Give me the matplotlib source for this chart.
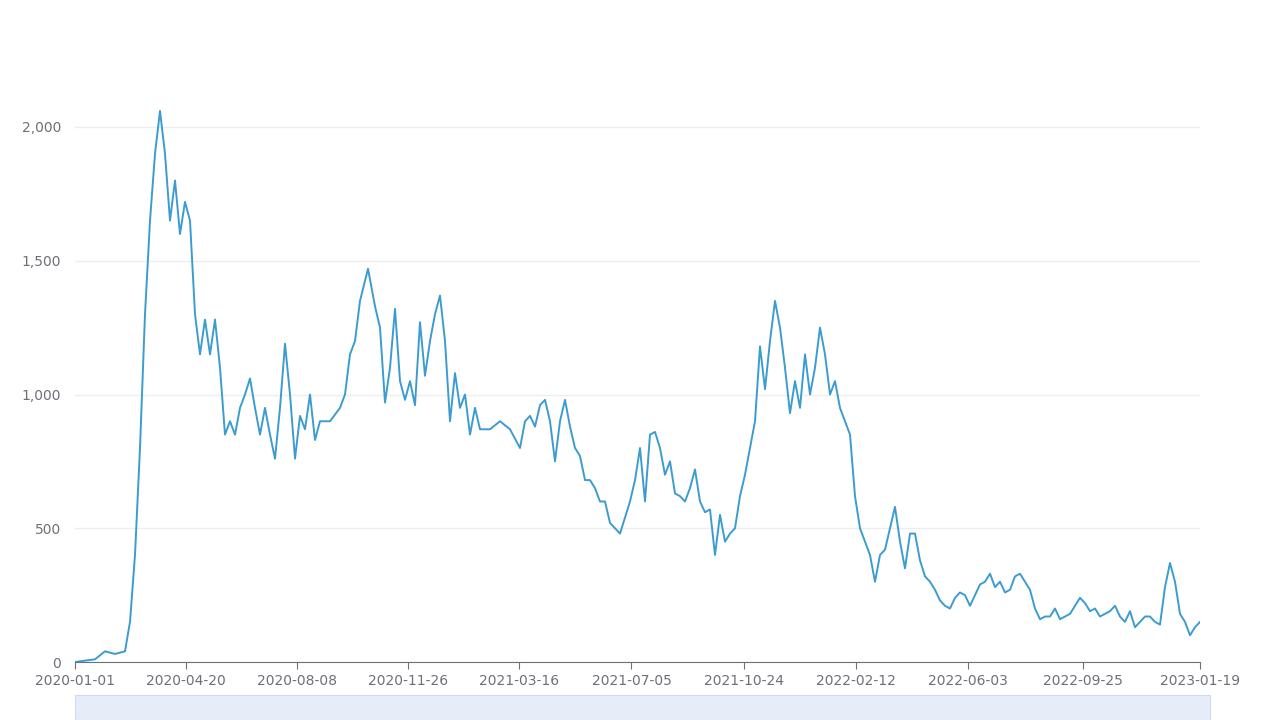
import matplotlib
matplotlib.use("Agg")
import matplotlib.pyplot as plt
import matplotlib.ticker as mt
import pandas as pd
import numpy as np

start = "2020-01-01"
# day offsets from start and values
day_px = [0,10,20,30,40,50,55,60,65,70,75,80,85,90,95,100,105,110,115,120,125,130,135,140,145,150,155,160,165,170,175,180,185,190,195,200,205,210,215,220,225,230,235,240,245,255,265,270,275,280,285,293,300,305,310,315,320,325,330,335,340,345,350,355,360,365,370,375,380,385,390,395,400,405,415,425,435,445,450,455,460,465,470,475,480,485,490,495,500,505,510,515,520,525,530,535,545,555,560,565,570,575,580,585,590,595,600,605,610,615,620,625,630,635,640,645,650,655,660,665,670,675,680,685,690,695,700,705,710,715,720,725,730,735,740,745,750,755,760,765,770,775,780,785,790,795,800,805,810,815,820,825,830,835,840,845,850,855,860,865,870,875,880,885,890,895,900,905,910,915,920,925,930,935,940,945,955,960,965,970,975,980,985,990,995,1000,1005,1010,1015,1020,1025,1030,1035,1040,1045,1050,1055,1060,1065,1070,1075,1080,1085,1090,1095,1100,1105,1110,1115,1120,1125]
values = [0,5,10,40,30,40,150,400,800,1300,1650,1900,2060,1900,1650,1800,1600,1720,1650,1300,1150,1280,1150,1280,1100,850,900,850,950,1000,1060,950,850,950,850,760,950,1190,1000,760,920,870,1000,830,900,900,950,1000,1150,1200,1350,1470,1330,1250,970,1100,1320,1050,980,1050,960,1270,1070,1200,1300,1370,1200,900,1080,950,1000,850,950,870,870,900,870,800,900,920,880,960,980,900,750,900,980,880,800,770,680,680,650,600,600,520,480,600,680,800,600,850,860,800,700,750,630,620,600,650,720,600,560,570,400,550,450,480,500,620,700,800,900,1180,1020,1200,1350,1250,1100,930,1050,950,1150,1000,1100,1250,1150,1000,1050,950,900,850,620,500,450,400,300,400,420,500,580,450,350,480,480,380,320,300,270,230,210,200,240,260,250,210,250,290,300,330,280,300,260,270,320,330,270,200,160,170,170,200,160,170,180,210,240,220,190,200,170,180,190,210,170,150,190,130,150,170,170,150,140,280,370,300,180,150,100,130,150]
n = min(len(day_px), len(values))
days = np.array(day_px[:n]) * 1114 / 1125
dates = pd.Timestamp(start) + pd.to_timedelta(days, unit="D")

tick_labels = ["2020-01-01","2020-04-20","2020-08-08","2020-11-26","2021-03-16","2021-07-05","2021-10-24","2022-02-12","2022-06-03","2022-09-25","2023-01-19"]

top_px = 90
ymax = 2000 * (662 - top_px) / (662 - 127)
fig = plt.figure(figsize=(12.8, 7.2), dpi=100)
ax = fig.add_axes([75/1280, 1-662/720, 1125/1280, (662-top_px)/720])
ax.plot(dates, values[:n], color="#3d9ccf", lw=1.4)
ax.set_ylim(0, ymax)
ax.set_xlim(pd.Timestamp(start), pd.Timestamp("2023-01-19"))
ax.set_yticks([0,500,1000,1500,2000])
ax.yaxis.set_major_formatter(mt.FuncFormatter(lambda v, p: f"{int(v):,}"))
ax.set_xticks(pd.to_datetime(tick_labels))
ax.set_xticklabels(tick_labels)
ax.grid(axis="y", color="#eeeeee", lw=1)
for s in ["top","right","left"]:
    ax.spines[s].set_visible(False)
ax.spines["bottom"].set_color("#6e7079")
ax.tick_params(axis="y", length=0, colors="#6e7079", labelsize=10, pad=10)
ax.tick_params(axis="x", colors="#6e7079", labelsize=10, length=5)
ax.set_axisbelow(True)
# data zoom slider band
sl = fig.add_axes([75/1280, 0, 1135/1280, 25/720])
sl.set_facecolor("#e6edf8")
sl.set_xticks([]); sl.set_yticks([])
for s in sl.spines.values():
    s.set_color("#d2dbee")
fig.savefig("out.png", dpi=100)
